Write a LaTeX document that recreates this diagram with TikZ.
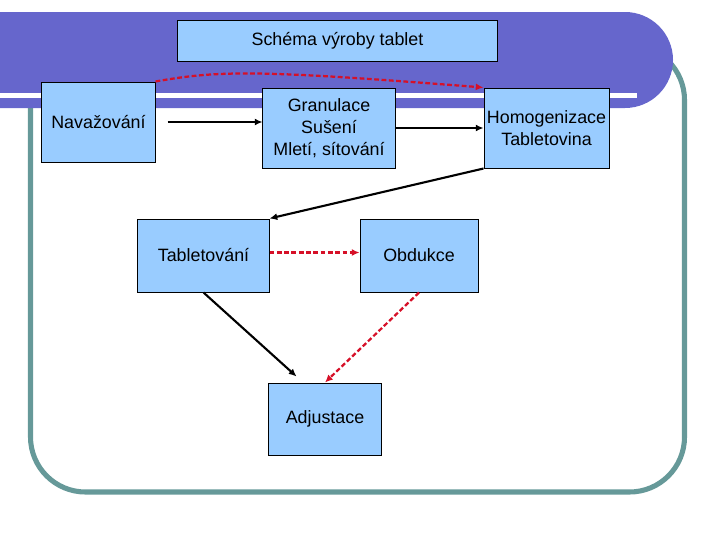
\documentclass[tikz,border=0pt]{standalone}
\usepackage{fontspec}
\setmainfont{Liberation Sans}
\usetikzlibrary{calc,arrows.meta}
\definecolor{pas}{RGB}{102,102,204}
\definecolor{ram}{RGB}{102,153,153}
\definecolor{vypln}{RGB}{153,204,255}
\definecolor{cerv}{RGB}{214,16,40}
\tikzset{
  blok/.style={draw=black,line width=0.7pt,fill=vypln,align=center,inner sep=0pt,
    font=\fontsize{12.7}{15.5}\selectfont},
  sipka/.style={->,line width=1.5pt},
  carka/.style={->,line width=1.6pt,cerv,dash pattern=on 3.4pt off 1.8pt}
}
\begin{document}
\begin{tikzpicture}[x=0.025cm,y=-0.025cm,>={Latex[length=5.5pt,width=5pt]}]
	\useasboundingbox (0,0) rectangle (720,540);
	\clip (0,0) rectangle (720,540);
	% podklad snimku
	\draw[ram,line width=3.6pt,rounded corners=1.375cm] (30.5,45) rectangle (684.5,492);
	\fill[pas,rounded corners=1.2cm] (-60,12) rectangle (673,108);
	\fill[white] (0,93) rectangle (637,98);
	% bloky
	\node[blok,minimum width=7.975cm,minimum height=1.025cm] (titul) at (337.5,40.5) {Schéma výroby tablet};
	\node[blok,minimum width=2.825cm,minimum height=2cm] (nav) at (98.5,122) {Navažování};
	\node[blok,minimum width=3.3cm,minimum height=2cm] (gran) at (329,128) {Granulace\\Sušení\\Mletí, sítování};
	\node[blok,minimum width=3.125cm,minimum height=2cm] (homo) at (546.5,128) {Homogenizace\\Tabletovina};
	\node[blok,minimum width=3.275cm,minimum height=1.825cm] (tab) at (203.5,255.5) {Tabletování};
	\node[blok,minimum width=2.95cm,minimum height=1.825cm] (obd) at (419,255.5) {Obdukce};
	\node[blok,minimum width=2.8cm,minimum height=1.8cm] (adj) at (325,419) {Adjustace};
	% sipky
	\draw[sipka] ($(nav.east)+(12,0)$)--(gran.west |- nav.east);
	\draw[sipka] (gran.east)--(homo.west);
	\draw[sipka] (homo.south west)--(tab.north east);
	\draw[sipka] (tab.south)--($(adj.north west)+(28,-6)$);
	\draw[carka] (nav.north east) .. controls (220,70) and (260,70) .. (homo.north west);
	\draw[carka] ($(tab.east)+(0,-3)$)--($(obd.west)+(0,-3)$);
	\draw[carka] (obd.south)--(adj.north);
\end{tikzpicture}
\end{document}
